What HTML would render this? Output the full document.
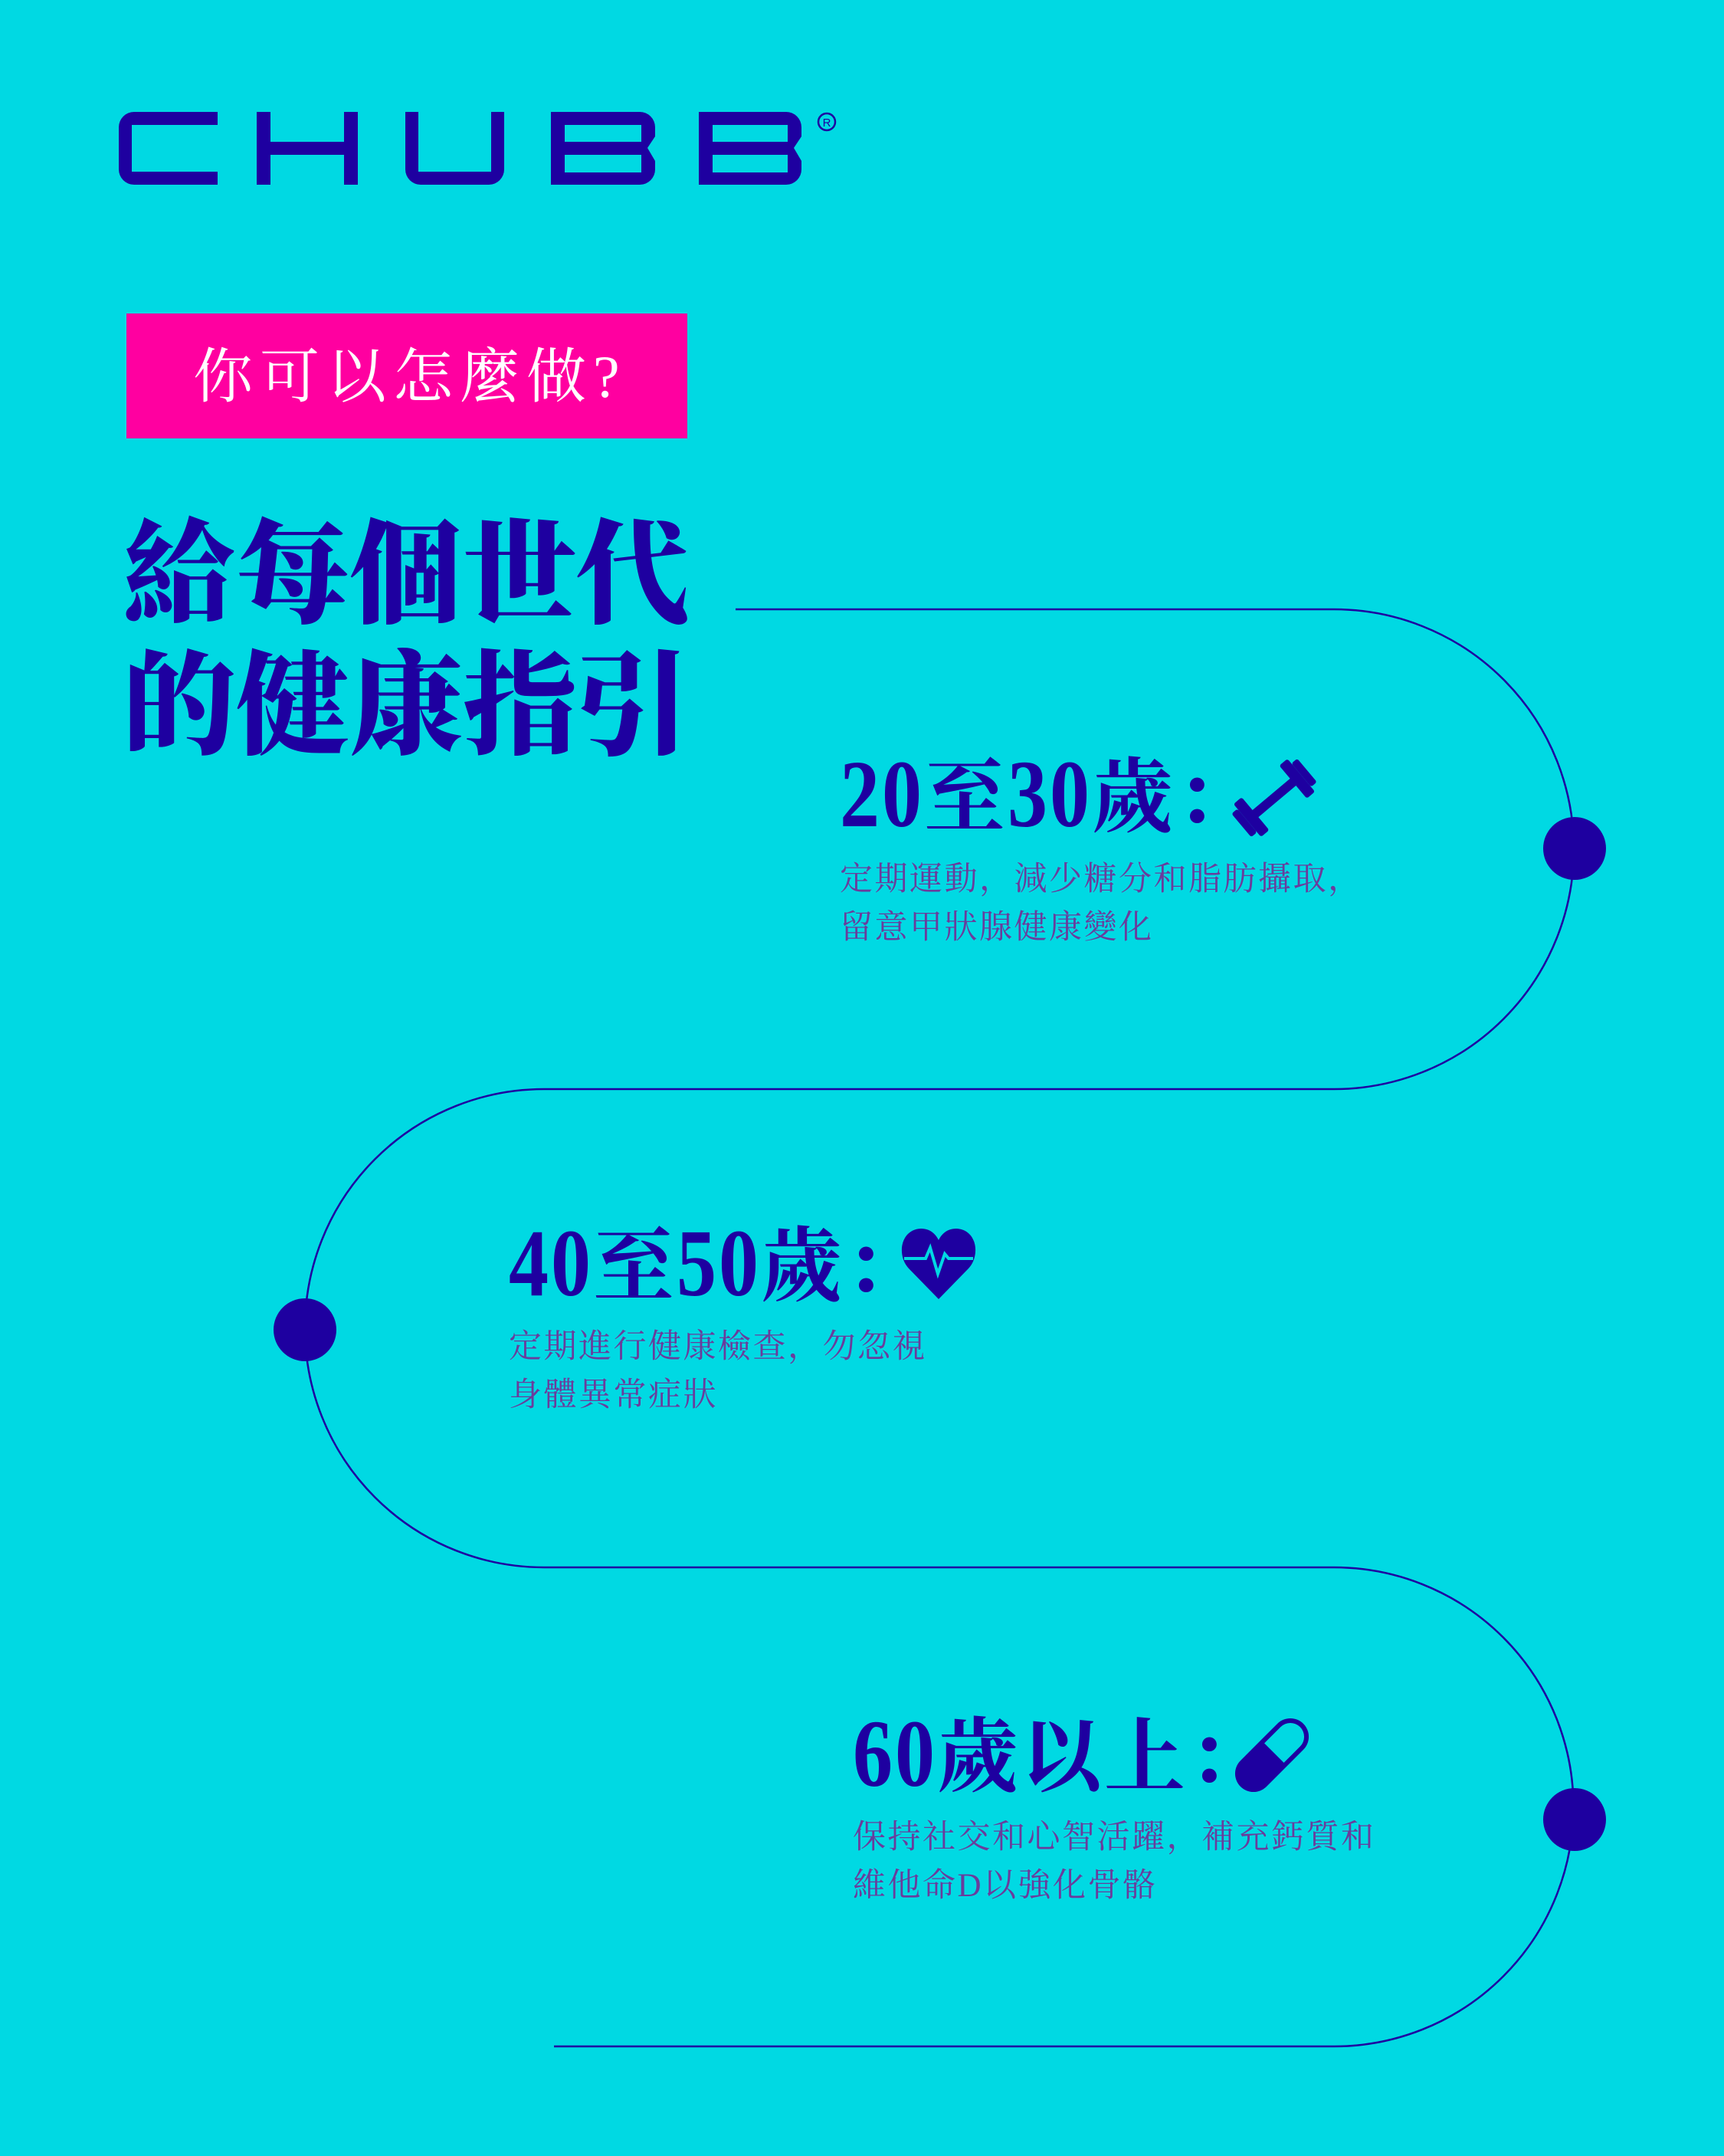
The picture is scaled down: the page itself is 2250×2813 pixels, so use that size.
<!DOCTYPE html>
<html><head><meta charset="utf-8"><style>
html,body{margin:0;padding:0}
body{width:2250px;height:2813px;background:#00d9e3;position:relative;overflow:hidden;font-family:"Liberation Serif","Noto Serif CJK SC",serif}
.abs{position:absolute;white-space:nowrap}
.pink{left:165px;top:409px;width:732px;height:163px;background:#ff00a0}
.pt{left:252px;top:442px;font-size:78px;color:#fff;letter-spacing:9px;line-height:100px}
.title{left:160px;font-size:148px;font-weight:900;color:#1e00a0;line-height:170px}
.h{font-size:106px;font-weight:700;color:#1e00a0;line-height:120px;letter-spacing:3px}
.h .d{display:inline-block;transform:scaleY(1.2);transform-origin:50% 75%;font-size:104px;font-weight:600}
.desc{font-size:43px;color:#6a3c9c;line-height:63px;letter-spacing:2.5px}
</style></head><body>
<svg class="abs" style="left:0;top:0" width="2250" height="2813">
<g fill="#1e00a0" fill-rule="evenodd">
<path d="M284,146 H175 a20,20 0 0 0 -20,20 V221 a20,20 0 0 0 20,20 H284 V224 H172 V163 H284 Z"/>
<rect x="335" y="146" width="18" height="95"/><rect x="449" y="146" width="18" height="95"/><rect x="335" y="185" width="132" height="17"/>
<path d="M529,146 V221 a20,20 0 0 0 20,20 H638 a20,20 0 0 0 20,-20 V146 H641 V224 H546 V146 Z"/>
<path d="M719,146 H835 a20,20 0 0 1 20,20 V178 L845,193 L855,210 V221 a20,20 0 0 1 -20,20 H719 Z M737,163 V185 H837 V163 Z M737,202 V225 H837 V202 Z"/>
<path d="M912,146 H1026 a20,20 0 0 1 20,20 V178 L1036,193 L1046,210 V221 a20,20 0 0 1 -20,20 H912 Z M930,163 V185 H1028 V163 Z M930,202 V225 H1028 V202 Z"/>
</g>
<circle cx="1079" cy="159" r="11" fill="none" stroke="#1e00a0" stroke-width="2.5"/>
<text x="1079" y="165" font-size="15" text-anchor="middle" fill="#1e00a0" font-family="Liberation Sans">R</text>
<path d="M960,795 H1741 A313,313 0 0 1 1741,1421 H710 A312,312 0 0 0 710,2045 H1741 A312.5,312.5 0 0 1 1741,2670 H723" fill="none" stroke="#1e00a0" stroke-width="2.5"/>
<circle cx="2055" cy="1107" r="41" fill="#1e00a0"/>
<circle cx="398" cy="1735" r="41" fill="#1e00a0"/>
<circle cx="2055" cy="2374" r="41" fill="#1e00a0"/>
<g transform="translate(1663,1041) rotate(-40)" fill="#1e00a0">
<rect x="-40" y="-6" width="80" height="12"/>
<rect x="-46" y="-28" width="14" height="56" rx="3"/><rect x="-56" y="-20" width="10" height="40" rx="3"/>
<rect x="32" y="-28" width="14" height="56" rx="3"/><rect x="46" y="-20" width="10" height="40" rx="3"/>
</g>
<path d="M1225,1695 L1186,1655 C1170,1638 1175,1604 1202,1603 C1214,1603 1221,1610 1225,1618 C1229,1610 1236,1603 1248,1603 C1275,1604 1280,1638 1264,1655 Z" fill="#1e00a0"/>
<polyline points="1180,1642 1208,1642 1214,1628 1224,1662 1233,1636 1238,1642 1270,1642" fill="none" stroke="#00d9e3" stroke-width="4"/>
<g transform="translate(1660,2290) rotate(-45)">
<rect x="-58" y="-24" width="116" height="48" rx="24" fill="#1e00a0"/>
<path d="M4,-18 H34 a18,18 0 0 1 0,36 H4 Z" fill="#00d9e3"/>
</g>
</svg>
<div class="abs pink"></div>
<div class="abs pt">你可以怎麼做?</div>
<div class="abs title" style="top:667px">給每個世代</div>
<div class="abs title" style="top:838px">的健康指引</div>

<div class="abs h" style="left:1096px;top:982px"><span class="d">20</span>至<span class="d">30</span>歲：</div>
<div class="abs desc" style="left:1096px;top:1116px">定期運動，減少糖分和脂肪攝取，<br>留意甲狀腺健康變化</div>

<div class="abs h" style="left:664px;top:1594px"><span class="d">40</span>至<span class="d">50</span>歲：</div>
<div class="abs desc" style="left:664px;top:1726px">定期進行健康檢查，勿忽視<br>身體異常症狀</div>

<div class="abs h" style="left:1113px;top:2234px"><span class="d">60</span>歲以上：</div>
<div class="abs desc" style="left:1113px;top:2366px">保持社交和心智活躍，補充鈣質和<br>維他命D以強化骨骼</div>
</body></html>
